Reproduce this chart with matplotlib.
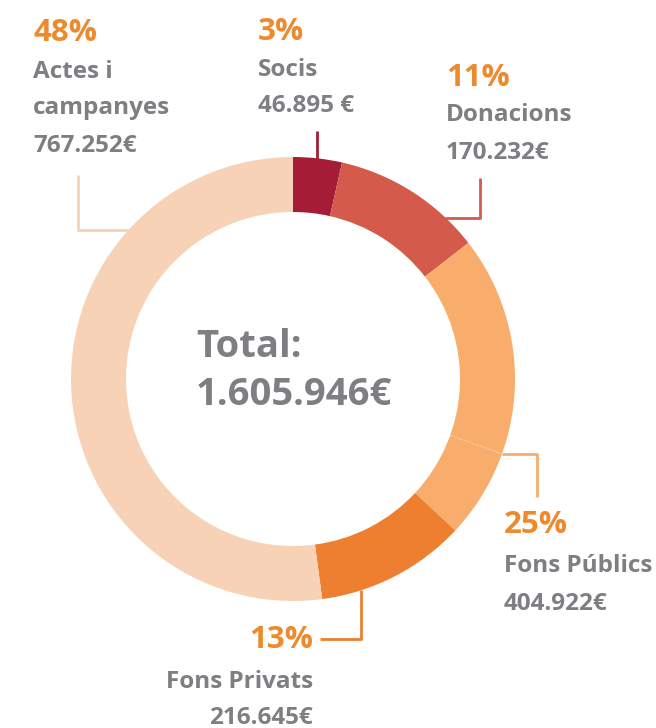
import matplotlib
matplotlib.use("Agg")
import matplotlib.pyplot as plt
import numpy as np

plt.rcParams.update({
    "font.family": ["Open Sans", "DejaVu Sans"],
})

# ── data ─────────────────────────────────────────────
categories = ["Socis", "Donacions", "Fons Públics", "Fons Privats", "Actes i\ncampanyes"]
values = [46895, 170232, 404922, 216645, 767252]
pct_labels = ["3%", "11%", "25%", "13%", "48%"]
value_labels = ["46.895 €", "170.232€", "404.922€", "216.645€", "767.252€"]
total_label = "1.605.946€"
# arc sizes as actually drawn in the source graphic (% of ring)
drawn_share = [3.55, 10.95, 22.45, 10.95, 52.1]

colors = ["#A51C36", "#D45B4C", "#F8AD6C", "#EE7F30", "#F8D2B6"]
ORANGE = "#EE8A2E"
GRAY = "#7F7F83"

W, H = 656, 728
fig = plt.figure(figsize=(W / 100, H / 100), dpi=100)
ax = fig.add_axes([0, 0, 1, 1])

cx, cy = 293, H - 379
R, RING = 222, 55
ax.pie(drawn_share, colors=colors, startangle=90, counterclock=False,
       center=(cx, cy), radius=R, frame=True,
       wedgeprops=dict(width=RING, linewidth=0))
ax.set_xlim(0, W)
ax.set_ylim(0, H)
ax.axis("off")

# faint seam inside the Fons Públics segment
a = np.deg2rad(90 - 109.7)
ax.plot([cx + (R - RING) * np.cos(a), cx + R * np.cos(a)],
        [cy + (R - RING) * np.sin(a), cy + R * np.sin(a)],
        color="#FBC9A0", lw=0.8, ls=(0, (3, 1)))

def y(p):
    return H - p

# leader lines (pixel coords from top)
leaders = [
    ([317, 317], [160, 131], colors[0]),
    ([445, 480, 480], [218, 218, 178], colors[1]),
    ([502, 537, 537], [454, 454, 497], colors[2]),
    ([361, 361, 320], [590, 639, 639], colors[3]),
    ([130, 78, 78], [230, 230, 175], colors[4]),
]
for xs, ys, c in leaders:
    ax.plot(xs, [y(v) for v in ys], color=c, lw=2, solid_capstyle="butt")

# label blocks: (x, pct_y, name_y, value_y, ha)
blocks = [
    (258, 32, 70, 106, "left"),
    (446, 78, 115, 153, "left"),
    (504, 525, 566, 604, "left"),
    (313, 640, 682, 718, "right"),
    (33, 33, None, 146, "left"),
]
kw = dict(fontweight="bold", va="center")
PCT_FS, TXT_FS = 22.5, 17.5
for i, (x, py, ny, vy, ha) in enumerate(blocks):
    ax.text(x, y(py), pct_labels[i], color=ORANGE, fontsize=PCT_FS, ha=ha, **kw)
    if ny is None:
        name_lines = categories[i].split("\n")
        ax.text(x, y(72), name_lines[0], color=GRAY, fontsize=TXT_FS, ha=ha, **kw)
        ax.text(x, y(108), name_lines[1], color=GRAY, fontsize=TXT_FS, ha=ha, **kw)
    else:
        ax.text(x, y(ny), categories[i], color=GRAY, fontsize=TXT_FS, ha=ha, **kw)
    ax.text(x, y(vy), value_labels[i], color=GRAY, fontsize=TXT_FS, ha=ha, **kw)

ax.text(196, y(347), "Total:", color=GRAY, fontsize=27.5, ha="left", **kw)
ax.text(196, y(395), total_label, color=GRAY, fontsize=27.5, ha="left", **kw)

plt.savefig("out.png", dpi=100)
plt.close()
